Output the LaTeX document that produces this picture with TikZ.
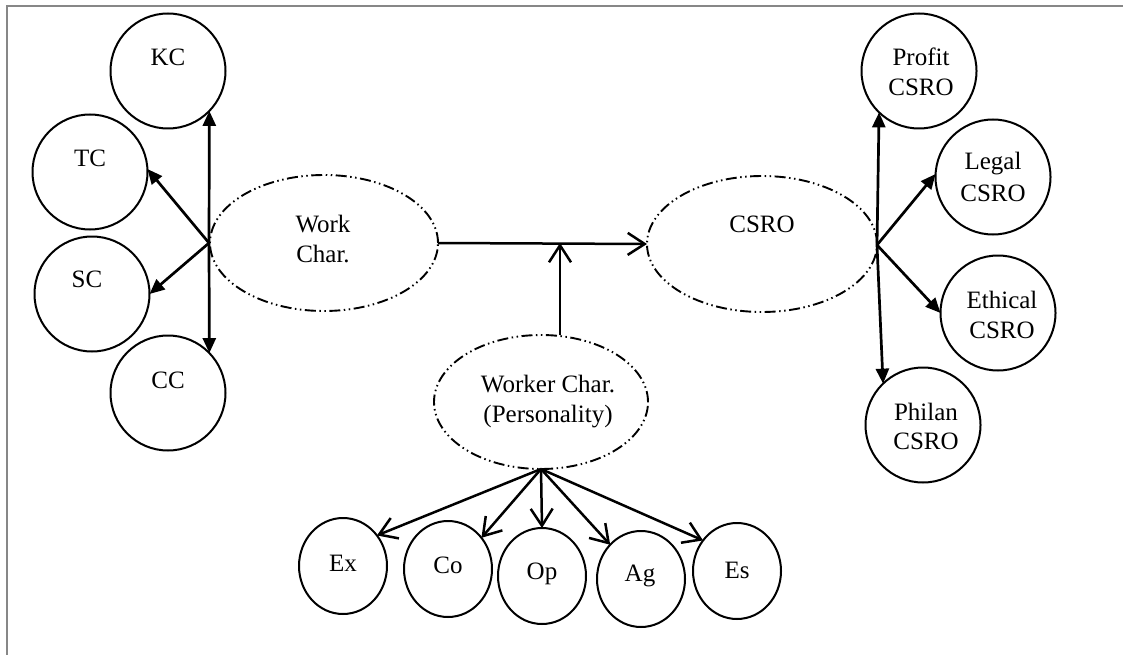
\documentclass[tikz,border=0pt]{standalone}
\usepackage{fontspec}
\setmainfont{Liberation Serif}
\usetikzlibrary{arrows.meta,shapes.geometric}

\tikzset{
  every node/.style={inner sep=0pt, outer sep=0pt},
  circ/.style={draw, circle, line width=2pt, minimum size=115pt},
  smallcirc/.style={draw, ellipse, line width=2pt, minimum width=88pt, minimum height=96pt},
  factor/.style={draw, ellipse, line width=1.9pt,
    dash pattern=on 11pt off 3.5pt on 1.5pt off 3.5pt on 1.5pt off 3.5pt},
  lbl/.style={anchor=base, font=\fontsize{25}{30}\selectfont},
  solidarrow/.style={line width=2.7pt, -{Triangle[length=15pt,width=13pt]}},
  openarrow/.style={line width=2.5pt, -{Straight Barb[length=17pt,width=22pt,line width=2.5pt]}},
}

\begin{document}
\begin{tikzpicture}[x=1pt, y=-1pt]
\useasboundingbox (0,0) rectangle (1123,655);

% page frame
\draw[line width=2pt, color=black!47] (6.5,655) -- (6.5,6.5) -- (1123,6.5);

% central constructs
\node[factor, minimum width=228pt, minimum height=136pt] (work) at (324,243) {};
\node[factor, minimum width=230pt, minimum height=136pt] (csro) at (762,244) {};
\node[factor, minimum width=214pt, minimum height=134pt] (worker) at (541,402) {};

\node[lbl] (work-l1) at (323,232) {Work};
\node[lbl] (work-l2) at (323,262) {Char.};
\node[lbl] (csro-l) at (762,232) {CSRO};
\node[lbl] (worker-l1) at (548,392) {Worker Char.};
\node[lbl] (worker-l2) at (548,422) {(Personality)};

% work characteristics
\node[circ] (kc) at (168,71) {};
\node[circ] (tc) at (90,172) {};
\node[circ] (sc) at (92,294) {};
\node[circ] (cc) at (168,393) {};
\node[lbl] (kc-l) at (168,66) {KC};
\node[lbl] (tc-l) at (90,167) {TC};
\node[lbl] (sc-l) at (87,287) {SC};
\node[lbl] (cc-l) at (168,388) {CC};

% CSR orientation dimensions
\node[circ] (profit) at (919,71) {};
\node[circ] (legal) at (993,177) {};
\node[circ] (ethical) at (998,313) {};
\node[circ] (philan) at (923,425) {};
\node[lbl] (profit-l1) at (921,66) {Profit};
\node[lbl] (profit-l2) at (921,96) {CSRO};
\node[lbl] (legal-l1) at (993,170) {Legal};
\node[lbl] (legal-l2) at (993,201) {CSRO};
\node[lbl] (ethical-l1) at (1002,308) {Ethical};
\node[lbl] (ethical-l2) at (1002,338) {CSRO};
\node[lbl] (philan-l1) at (926,420) {Philan};
\node[lbl] (philan-l2) at (926,449) {CSRO};

% personality traits
\node[smallcirc] (ex) at (343,566) {};
\node[smallcirc] (co) at (448,569) {};
\node[smallcirc] (op) at (542,576) {};
\node[smallcirc] (ag) at (641,579) {};
\node[smallcirc] (es) at (737,571) {};
\node[lbl] (ex-l) at (343,571) {Ex};
\node[lbl] (co-l) at (448,573) {Co};
\node[lbl] (op-l) at (542,579) {Op};
\node[lbl] (ag-l) at (640,581) {Ag};
\node[lbl] (es-l) at (737,578) {Es};

% branching points
\coordinate (lhub) at (209,243);
\coordinate (rhub) at (877,245);
\coordinate (join) at (560,243);

% left fan
\draw[solidarrow] (lhub) -- (kc.-44);
\draw[solidarrow] (lhub) -- (cc.44);
\draw[solidarrow] (lhub) -- (tc.3);
\draw[solidarrow] (lhub) -- (sc.0);

% right fan
\draw[solidarrow] (rhub) -- (profit.-134);
\draw[solidarrow] (rhub) -- (philan.134);
\draw[solidarrow] (rhub) -- (legal.177);
\draw[solidarrow] (rhub) -- (ethical.180);

% main path and moderator
\draw[openarrow] (work.east) -- (csro.west);
\draw[openarrow] (join |- worker.north) -- (join);

% traits
\draw[openarrow] (worker.south) -- (ex.42);
\draw[openarrow] (worker.south) -- (co.43);
\draw[openarrow] (worker.south) -- (op.north);
\draw[openarrow] (worker.south) -- (ag.132);
\draw[openarrow] (worker.south) -- (es.138);
\end{tikzpicture}
\end{document}
